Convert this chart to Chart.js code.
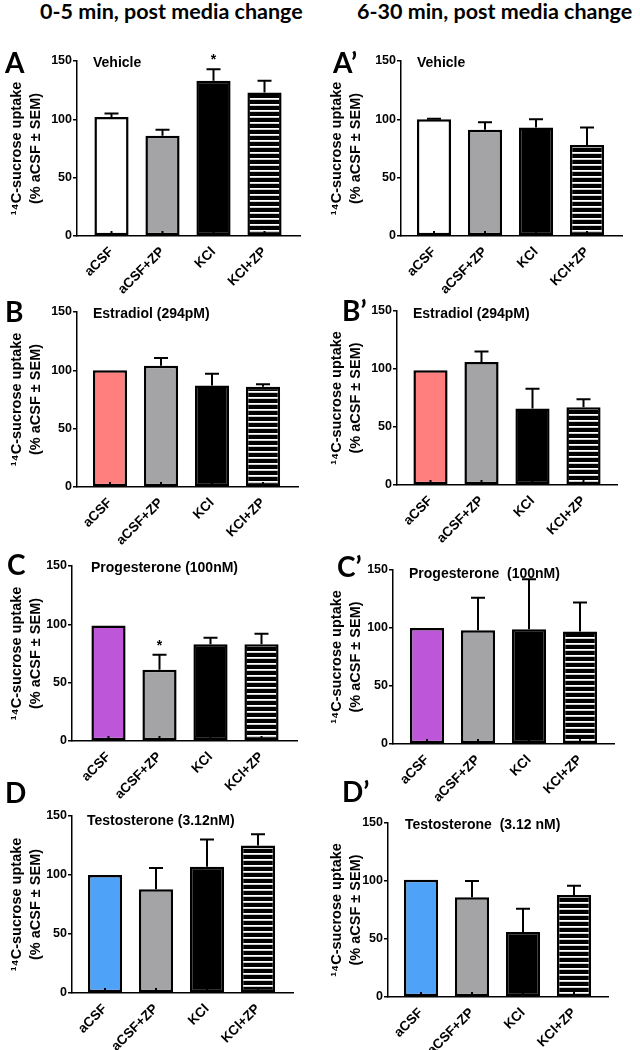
<!DOCTYPE html>
<html>
<head>
<meta charset="utf-8">
<script src="https://cdn.jsdelivr.net/npm/chart.js@4.4.1/dist/chart.umd.min.js"></script>
<style>
  body { margin: 0; background: #fff; width: 640px; height: 1050px; position: relative; overflow: hidden; }
  canvas { position: absolute; }
  .lbl { position: absolute; white-space: pre; line-height: 1; transform: translateY(-50%); color: #000; }
  .head { font: bold 21.5px Lato, sans-serif; }
  .letter { font: bold 28px Lato, sans-serif; }
  .ptitle { font: bold 14px "Liberation Sans", Arial, sans-serif; }
</style>
</head>
<body>
<script>
// Groups on the x axis, shared by every panel
const groups = ['aCSF', 'aCSF+ZP', 'KCl', 'KCl+ZP'];
const yTicks = [0, 50, 100, 150];

// Mean uptake (% aCSF) and SEM
const vehicleEarly    = [102, 86, 133, 123];
const vehicleEarlyErr = [3, 5, 10, 10];
const vehicleLate     = [100, 91, 93, 78];
const vehicleLateErr  = [0.6, 6.5, 7, 15];

const estradiolEarly    = [100, 104, 87, 86];
const estradiolEarlyErr = [0, 6.5, 10, 2];
const estradiolLate     = [99, 106, 66, 67];
const estradiolLateErr  = [0, 9, 17, 7];

const progEarly    = [99, 61, 83, 83];
const progEarlyErr = [0, 13, 5.5, 9];
const progLate     = [100, 98, 99, 97];
const progLateErr  = [0, 28, 43, 25];

const testoEarly    = [100, 88, 107, 125];
const testoEarlyErr = [0, 18, 23, 9.5];
const testoLate     = [101, 86, 56, 88];
const testoLateErr  = [0, 14, 20, 8];

const starsNone = ['', '', '', ''];
const starsVehicleEarly = ['', '', '*', ''];
const starsProgEarly = ['', '*', '', ''];

const FONT = '"Liberation Sans", Arial, sans-serif';
const GRAY = '#a4a4a7';

function stripes() {
  const c = document.createElement('canvas');
  c.width = 8; c.height = 6;
  const g = c.getContext('2d');
  g.fillStyle = '#000'; g.fillRect(0, 0, 8, 6);
  g.fillStyle = '#fff'; g.fillRect(0, 4, 8, 1.8);
  return g.createPattern(c, 'repeat');
}
const STRIPE = stripes();

// Upward-only SEM bars and significance stars, placed through the y scale
const errorBars = {
  id: 'errorBars',
  afterDatasetsDraw(chart, args, opts) {
    const { ctx } = chart;
    const y = chart.scales.y;
    const ds = chart.data.datasets[0];
    const meta = chart.getDatasetMeta(0);
    const base = y.getPixelForValue(0);
    ctx.save();
    ctx.strokeStyle = '#000';
    ctx.fillStyle = '#000';
    ctx.lineWidth = 2;
    ctx.font = 'bold 14px ' + FONT;
    ctx.textAlign = 'center';
    ctx.textBaseline = 'bottom';
    meta.data.forEach((bar, i) => {
      const v = ds.data[i].y;
      const e = opts.err[i];
      const y0 = y.getPixelForValue(v);
      const y1 = y.getPixelForValue(v + e);
      ctx.beginPath();
      // little lower-whisker stub Prism leaves at the bar foot
      ctx.moveTo(bar.x, base);
      ctx.lineTo(bar.x, base - 5);
      if (e > 0) {
        ctx.moveTo(bar.x, y0);
        ctx.lineTo(bar.x, y1);
        ctx.moveTo(bar.x - 7, y1);
        ctx.lineTo(bar.x + 7, y1);
      }
      ctx.stroke();
      if (opts.stars[i]) ctx.fillText(opts.stars[i], bar.x, y1 - 2);
    });
    ctx.restore();
  }
};

// Panel frames: column origin, y-axis x, pixel rows of 150 and 0, axis end, first bar offset
const panels = [
  { letter: 'A',  title: 'Vehicle',                 col: 0,   axisX: 77,  top: 61,  bottom: 236, right: 300, first: 34.5, vals: vehicleEarly,   err: vehicleEarlyErr,   stars: starsVehicleEarly, fill: '#ffffff', lx: 5,   ly: 62,  tx: 93,  ty: 62 },
  { letter: 'A\u2019', title: 'Vehicle',            col: 320, axisX: 401, top: 61,  bottom: 236, right: 622, first: 33,   vals: vehicleLate,    err: vehicleLateErr,    stars: starsNone,         fill: '#ffffff', lx: 333, ly: 62,  tx: 417, ty: 62 },
  { letter: 'B',  title: 'Estradiol (294pM)',       col: 0,   axisX: 77,  top: 312, bottom: 487, right: 298, first: 33,   vals: estradiolEarly, err: estradiolEarlyErr, stars: starsNone,         fill: '#ff7f7f', lx: 5,   ly: 311, tx: 93,  ty: 313 },
  { letter: 'B\u2019', title: 'Estradiol (294pM)',  col: 320, axisX: 397, top: 311, bottom: 485, right: 617, first: 33.5, vals: estradiolLate,  err: estradiolLateErr,  stars: starsNone,         fill: '#ff7f7f', lx: 342, ly: 310, tx: 413, ty: 313 },
  { letter: 'C',  title: 'Progesterone (100nM)',    col: 0,   axisX: 72,  top: 566, bottom: 741, right: 297, first: 36.5, vals: progEarly,      err: progEarlyErr,      stars: starsProgEarly,    fill: '#be56da', lx: 7,   ly: 564, tx: 91,  ty: 567 },
  { letter: 'C\u2019', title: 'Progesterone  (100nM)', col: 320, axisX: 393, top: 570, bottom: 744, right: 614, first: 34,  vals: progLate,       err: progLateErr,       stars: starsNone,         fill: '#be56da', lx: 337, ly: 566, tx: 409, ty: 573 },
  { letter: 'D',  title: 'Testosterone (3.12nM)',   col: 0,   axisX: 72,  top: 816, bottom: 993, right: 293, first: 33,   vals: testoEarly,     err: testoEarlyErr,     stars: starsNone,         fill: '#4ea2f7', lx: 5,   ly: 792, tx: 87,  ty: 820 },
  { letter: 'D\u2019', title: 'Testosterone  (3.12 nM)', col: 320, axisX: 388, top: 823, bottom: 997, right: 608, first: 33, vals: testoLate,  err: testoLateErr,      stars: starsNone,         fill: '#4ea2f7', lx: 342, ly: 791, tx: 405, ty: 824 },
];

function label(text, x, y, cls) {
  const d = document.createElement('div');
  d.className = 'lbl ' + cls;
  d.textContent = text;
  d.style.left = x + 'px';
  d.style.top = y + 'px';
  document.body.appendChild(d);
  return d;
}

label('0-5 min, post media change', 40, 11, 'head');
label('6-30 min, post media change', 357, 11, 'head');

const SPACING = 51;
const PAD_TOP = 15;
const X_H = 65;

panels.forEach(p => {
  const cv = document.createElement('canvas');
  cv.width = 320;
  cv.height = (p.bottom - p.top) + PAD_TOP + X_H;
  cv.style.left = p.col + 'px';
  cv.style.top = (p.top - PAD_TOP) + 'px';
  document.body.appendChild(cv);

  label(p.letter, p.lx, p.ly, 'letter');
  label(p.title, p.tx, p.ty, 'ptitle');

  const min = -p.first / SPACING;
  const max = (p.right - p.axisX - p.first) / SPACING;

  new Chart(cv.getContext('2d'), {
    type: 'bar',
    data: {
      datasets: [{
        data: p.vals.map((v, i) => ({ x: i, y: v })),
        backgroundColor: [p.fill, GRAY, '#000000', STRIPE],
        borderColor: '#000',
        borderWidth: 2.5,
        borderSkipped: false,
        categoryPercentage: 1,
        barPercentage: 0.67,
      }],
    },
    options: {
      responsive: false,
      animation: false,
      layout: { padding: { left: 0, top: PAD_TOP, right: 320 - (p.right - p.col), bottom: 0 } },
      plugins: {
        legend: { display: false },
        tooltip: { enabled: false },
        errorBars: { err: p.err, stars: p.stars },
      },
      scales: {
        x: {
          type: 'linear',
          offset: false,
          min, max,
          afterBuildTicks: s => { s.ticks = groups.map((g, i) => ({ value: i })); },
          afterFit: s => { s.height = X_H; },
          grid: { display: false, offset: false },
          border: { display: true, color: '#000', width: 1.5 },
          ticks: {
            color: '#000',
            font: { family: FONT, size: 13.5, weight: 'bold' },
            minRotation: 45, maxRotation: 45,
            autoSkip: false,
            padding: 0,
            callback: v => groups[v],
          },
        },
        y: {
          min: 0, max: 150,
          afterBuildTicks: s => { s.ticks = yTicks.map(v => ({ value: v })); },
          afterFit: s => { s.width = p.axisX - p.col; },
          grid: { display: true, drawOnChartArea: false, drawTicks: true, tickLength: 4, color: '#000', lineWidth: 1.5 },
          border: { display: true, color: '#000', width: 1.5 },
          ticks: { color: '#000', font: { family: FONT, size: 12.5, weight: 'bold' }, padding: 1 },
          title: {
            display: true,
            text: ['\u00b9\u2074C-sucrose uptake', '(% aCSF \u00b1 SEM)'],
            color: '#000',
            font: { family: FONT, size: 14.5, weight: 'bold', lineHeight: 1.3 },
            padding: { top: 8, bottom: 0 },
          },
        },
      },
    },
    plugins: [errorBars],
  });
});
</script>
</body>
</html>
